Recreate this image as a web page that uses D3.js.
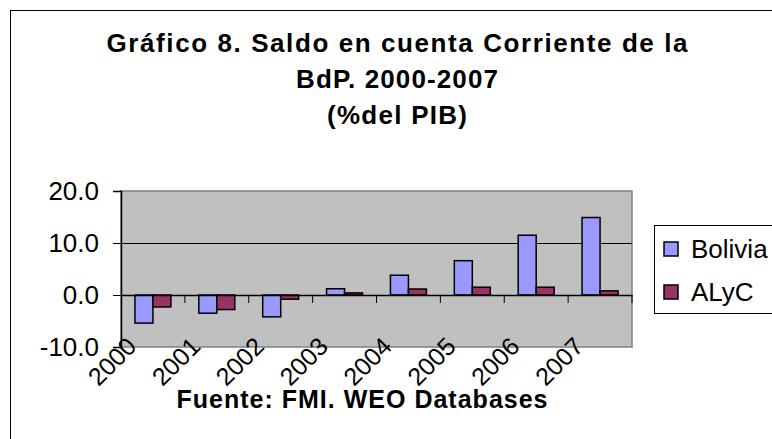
<!DOCTYPE html>
<html><head><meta charset="utf-8">
<script src="https://cdn.jsdelivr.net/npm/d3@7"></script>
<style>body{margin:0;background:#fff}svg{display:block}svg text{font-family:"Liberation Sans",Arial,sans-serif}</style>
</head><body>
<svg id="c" width="772" height="439"></svg>
<script>
const years = ["2000","2001","2002","2003","2004","2005","2006","2007"];
const seriesNames = ["Bolivia","ALyC"];
const bolivia = [-5.4,-3.5,-4.2,1.2,3.8,6.6,11.5,14.9];
const alyc = [-2.3,-2.8,-0.8,0.4,1.15,1.5,1.5,0.8];
const yTicks = [-10,0,10,20];
const titleLines = ["Gráfico 8. Saldo en cuenta Corriente de la","BdP. 2000-2007","(%del PIB)"];
const sourceText = "Fuente: FMI. WEO Databases";
const colors = {"Bolivia":"#9999FF","ALyC":"#993366"};

const FONT = "'Liberation Sans',Arial,sans-serif";
const svg = d3.select("#c");
svg.append("rect").attr("x",10.5).attr("y",10.5).attr("width",800).attr("height",500)
  .attr("fill","#fff").attr("stroke","#000");

const L=121, R=632, T=191, B=347;
const x = d3.scaleBand().domain(years).range([L,R]).padding(0);
const x1 = d3.scaleBand().domain(seriesNames).range([0,x.bandwidth()]).paddingInner(0).paddingOuter(0.775);
const y = d3.scaleLinear().domain([-10,20]).range([B,T]);

// plot area
svg.append("rect").attr("x",L).attr("y",T).attr("width",R-L).attr("height",B-T)
  .attr("fill","#C0C0C0").attr("stroke","#808080").attr("stroke-width",1.5);

// gridlines
svg.append("g").selectAll("line").data(yTicks.filter(v=>v!==20 && v!==-10 && v!==0)).join("line")
  .attr("x1",L).attr("x2",R).attr("y1",d=>y(d)+0.5).attr("y2",d=>y(d)+0.5)
  .attr("stroke","#000").attr("stroke-width",1);

// bars
const data = years.map((yr,i)=>({yr, vals:[{s:"Bolivia",v:bolivia[i]},{s:"ALyC",v:alyc[i]}]}));
svg.append("g").selectAll("g").data(data).join("g")
  .attr("transform",d=>`translate(${x(d.yr)},0)`)
  .selectAll("rect").data(d=>d.vals).join("rect")
  .attr("x",d=>x1(d.s)).attr("width",x1.bandwidth())
  .attr("y",d=>y(Math.max(0,d.v))).attr("height",d=>Math.abs(y(d.v)-y(0)))
  .attr("fill",d=>colors[d.s]).attr("stroke","#000").attr("stroke-width",1.5);

// x axis at zero
const xAxis = d3.axisBottom(x).tickSize(0).tickFormat("");
const gx = svg.append("g").attr("transform",`translate(0,${y(0)})`).call(xAxis);
gx.select(".domain").attr("stroke","#000").attr("stroke-width",1.5);
svg.append("g").selectAll("line").data(years.slice(1).concat(["end"])).join("line")
  .attr("x1",(d,i)=>i<years.length-1? x(d): R).attr("x2",(d,i)=>i<years.length-1? x(d): R)
  .attr("y1",y(0)).attr("y2",y(0)+8).attr("stroke","#000").attr("stroke-width",1);

// x labels
svg.append("g").selectAll("text").data(years).join("text")
  .attr("transform",d=>`translate(${x(d)+x.bandwidth()/2-15},${B+1}) rotate(-45)`)
  .attr("text-anchor","end").attr("font-size",25).attr("font-family",FONT).attr("fill","#000").text(d=>d);

// y axis
const fmt = d3.format(".1f");
const yAxis = d3.axisLeft(y).tickValues(yTicks).tickSize(8).tickPadding(14).tickFormat(d=>fmt(d).replace("\u2212","-"));
const gy = svg.append("g").attr("transform",`translate(${L},0)`).call(yAxis);
gy.select(".domain").attr("stroke","#000").attr("stroke-width",1.5);
gy.selectAll(".tick line").attr("stroke","#000");
gy.selectAll(".tick text").attr("font-size",26).attr("font-family",FONT).attr("fill","#000");

// title
const tl = [{t:titleLines[0],yb:52,w:581},{t:titleLines[1],yb:88,w:202},{t:titleLines[2],yb:124,w:140}];
svg.append("g").selectAll("text").data(tl).join("text")
  .attr("x",397).attr("y",d=>d.yb).attr("text-anchor","middle")
  .attr("font-size",26).attr("font-weight","bold").attr("font-family",FONT)
  .attr("textLength",d=>d.w).attr("lengthAdjust","spacing").text(d=>d.t);

// source
svg.append("text").attr("x",362).attr("y",408).attr("text-anchor","middle")
  .attr("font-size",25).attr("font-weight","bold").attr("font-family",FONT)
  .attr("textLength",371).attr("lengthAdjust","spacing")
  .text(sourceText);

// legend
const lg = svg.append("g");
lg.append("rect").attr("x",654.5).attr("y",225.5).attr("width",200).attr("height",88)
  .attr("fill","#fff").attr("stroke","#000");
const items = lg.selectAll("g").data(seriesNames).join("g")
  .attr("transform",(d,i)=>`translate(0,${i*43})`);
items.append("rect").attr("x",664).attr("y",242).attr("width",14).attr("height",14)
  .attr("fill",d=>colors[d]).attr("stroke","#000").attr("stroke-width",1.5);
items.append("text").attr("x",691).attr("y",258).attr("font-size",26).attr("font-family",FONT).text(d=>d);
</script>
</body></html>
